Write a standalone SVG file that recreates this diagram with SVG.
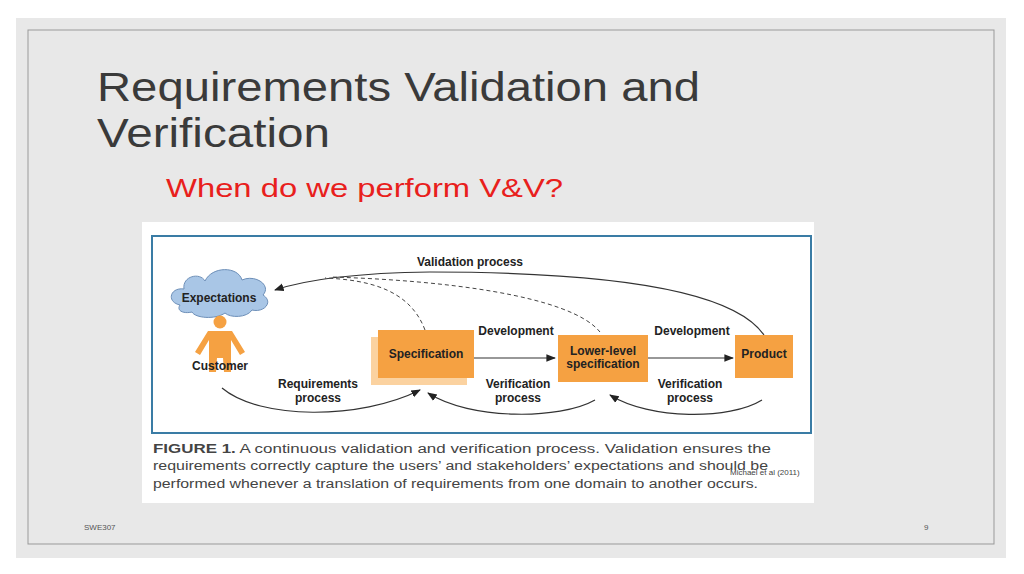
<svg xmlns="http://www.w3.org/2000/svg" width="1024" height="574" viewBox="0 0 1024 574">
<style>
.t{font-family:"Liberation Sans",Arial,sans-serif}
.b{font-family:"Liberation Sans",Arial,sans-serif;font-weight:bold;font-size:12px;fill:#222;text-anchor:middle}
.box{fill:#f5a142}
.ln{fill:none;stroke:#333;stroke-width:1.2}
.dash{fill:none;stroke:#444;stroke-width:1;stroke-dasharray:4,3}
</style>
<defs>
<marker id="a" viewBox="0 0 10 10" refX="9" refY="5" markerWidth="8" markerHeight="8" orient="auto"><path d="M0,1 L10,5 L0,9 z" fill="#222"/></marker>
</defs>
<rect width="1024" height="574" fill="#ffffff"/>
<rect x="16" y="18" width="990" height="540" fill="#e8e8e8"/>
<rect x="28" y="30" width="966" height="514" fill="#e8e8e8" stroke="#999" stroke-width="1"/>
<text class="t" x="97" y="101" font-size="40" fill="#3a3a3a" textLength="603" lengthAdjust="spacingAndGlyphs">Requirements Validation and</text>
<text class="t" x="97" y="147" font-size="40" fill="#3a3a3a" textLength="233" lengthAdjust="spacingAndGlyphs">Verification</text>
<text class="t" x="166" y="197" font-size="26" fill="#e8201c" textLength="397" lengthAdjust="spacingAndGlyphs">When do we perform V&amp;V?</text>
<rect x="142" y="222" width="672" height="281" fill="#ffffff"/>
<rect x="152" y="236" width="659" height="197" fill="#ffffff" stroke="#3a7ca5" stroke-width="2"/>
<g id="connectors">
<path class="ln" d="M764,335 C730,285 580,272 430,272 C350,273 305,280 275,290" marker-end="url(#a)"/>
<path class="dash" d="M425,330 C410,290 370,280 325,278"/>
<path class="dash" d="M600,332 C570,295 440,280 330,277"/>
<path class="ln" d="M474,358 L555,358" marker-end="url(#a)"/>
<path class="ln" d="M645,358 L733,358" marker-end="url(#a)"/>
<path class="ln" d="M222,388 C260,420 360,420 420,390" marker-end="url(#a)"/>
<path class="ln" d="M595,400 C560,420 470,420 428,393" marker-end="url(#a)"/>
<path class="ln" d="M762,400 C730,420 650,420 610,395" marker-end="url(#a)"/>
</g>
<g id="expectations">
<path d="M180,305 C166,302 170,287 184,289 C182,276 200,272 205,281 C212,266 238,266 242,280 C255,274 272,285 263,295 C274,302 264,313 252,310 C247,318 230,318 225,313 C215,320 195,318 192,312 C184,314 176,311 180,305 z" fill="#a9c6e6" stroke="#6d8fb8" stroke-width="1"/>
<text class="b" x="219" y="302">Expectations</text>
</g>
<g id="customer">
<circle cx="220" cy="322" r="6.5" fill="#f5a142"/>
<path d="M208,331 L232,331 L245,352 L240,355 L231,340 L231,372 L224,372 L223,358 L217,358 L216,372 L209,372 L209,340 L200,355 L195,352 z" fill="#f5a142"/>
<text class="b" x="220" y="370">Customer</text>
</g>
<g id="specification">
<rect x="371" y="337" width="96" height="48" fill="#fbd2a0"/>
<rect x="378" y="330" width="96" height="48" class="box"/>
<text class="b" x="426" y="358">Specification</text>
</g>
<g id="lower">
<rect x="558" y="335" width="90" height="47" class="box"/>
<text class="b" x="603" y="355">Lower-level</text>
<text class="b" x="603" y="368">specification</text>
</g>
<g id="product">
<rect x="735" y="335" width="58" height="43" class="box"/>
<text class="b" x="764" y="358">Product</text>
</g>
<g id="labels">
<text class="b" x="470" y="266">Validation process</text>
<text class="b" x="516" y="335">Development</text>
<text class="b" x="692" y="335">Development</text>
<text class="b" x="318" y="388">Requirements</text>
<text class="b" x="318" y="402">process</text>
<text class="b" x="518" y="388">Verification</text>
<text class="b" x="518" y="402">process</text>
<text class="b" x="690" y="388">Verification</text>
<text class="b" x="690" y="402">process</text>
</g>
<g class="t" font-size="12.5" fill="#444">
<text x="153" y="453" textLength="618" lengthAdjust="spacingAndGlyphs"><tspan font-weight="bold">FIGURE 1.</tspan> A continuous validation and verification process. Validation ensures the</text>
<text x="153" y="470" textLength="615" lengthAdjust="spacingAndGlyphs">requirements correctly capture the users’ and stakeholders’ expectations and should be</text>
<text x="153" y="488" textLength="605" lengthAdjust="spacingAndGlyphs">performed whenever a translation of requirements from one domain to another occurs.</text>
</g>
<text class="t" x="730" y="475" font-size="8" fill="#444">Michael et al (2011)</text>
<text class="t" x="84" y="530" font-size="8" fill="#555">SWE307</text>
<text class="t" x="924" y="530" font-size="8" fill="#555">9</text>
</svg>
